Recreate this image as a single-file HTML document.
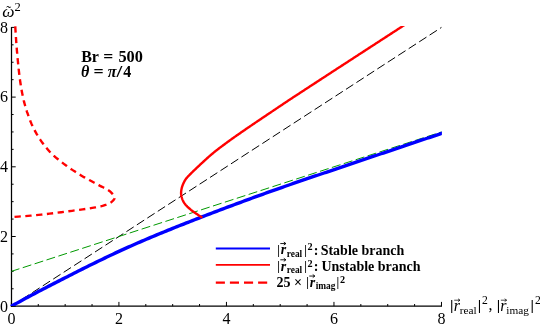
<!DOCTYPE html>
<html><head><meta charset="utf-8"><title>plot</title>
<style>
html,body{margin:0;padding:0;background:#fff;}
body{width:540px;height:328px;overflow:hidden;font-family:"Liberation Serif",serif;}
svg{display:block;will-change:transform;}
text{font-family:"Liberation Serif",serif;fill:#000;}
</style></head><body>
<svg width="540" height="328" viewBox="0 0 540 328">
<rect width="540" height="328" fill="#fff"/>
<defs><clipPath id="c"><rect x="10.5" y="26.0" width="431.40" height="279.90"/></clipPath></defs>
<g stroke="#000" stroke-width="1" fill="none">
<line x1="11.5" y1="26.90" x2="11.5" y2="306.82" stroke-width="1.25"/>
<line x1="10.88" y1="306.2" x2="441.98" y2="306.2" stroke-width="1.25"/>
<line x1="11.40" y1="306.2" x2="11.40" y2="301.90"/>
<line x1="11.4" y1="306.20" x2="15.70" y2="306.20"/>
<line x1="38.28" y1="306.2" x2="38.28" y2="304.00"/>
<line x1="11.4" y1="288.77" x2="13.60" y2="288.77"/>
<line x1="65.16" y1="306.2" x2="65.16" y2="304.00"/>
<line x1="11.4" y1="271.35" x2="13.60" y2="271.35"/>
<line x1="92.04" y1="306.2" x2="92.04" y2="304.00"/>
<line x1="11.4" y1="253.92" x2="13.60" y2="253.92"/>
<line x1="118.92" y1="306.2" x2="118.92" y2="301.90"/>
<line x1="11.4" y1="236.50" x2="15.70" y2="236.50"/>
<line x1="145.80" y1="306.2" x2="145.80" y2="304.00"/>
<line x1="11.4" y1="219.07" x2="13.60" y2="219.07"/>
<line x1="172.68" y1="306.2" x2="172.68" y2="304.00"/>
<line x1="11.4" y1="201.65" x2="13.60" y2="201.65"/>
<line x1="199.56" y1="306.2" x2="199.56" y2="304.00"/>
<line x1="11.4" y1="184.22" x2="13.60" y2="184.22"/>
<line x1="226.44" y1="306.2" x2="226.44" y2="301.90"/>
<line x1="11.4" y1="166.80" x2="15.70" y2="166.80"/>
<line x1="253.32" y1="306.2" x2="253.32" y2="304.00"/>
<line x1="11.4" y1="149.37" x2="13.60" y2="149.37"/>
<line x1="280.20" y1="306.2" x2="280.20" y2="304.00"/>
<line x1="11.4" y1="131.95" x2="13.60" y2="131.95"/>
<line x1="307.08" y1="306.2" x2="307.08" y2="304.00"/>
<line x1="11.4" y1="114.52" x2="13.60" y2="114.52"/>
<line x1="333.96" y1="306.2" x2="333.96" y2="301.90"/>
<line x1="11.4" y1="97.10" x2="15.70" y2="97.10"/>
<line x1="360.84" y1="306.2" x2="360.84" y2="304.00"/>
<line x1="11.4" y1="79.67" x2="13.60" y2="79.67"/>
<line x1="387.72" y1="306.2" x2="387.72" y2="304.00"/>
<line x1="11.4" y1="62.25" x2="13.60" y2="62.25"/>
<line x1="414.60" y1="306.2" x2="414.60" y2="304.00"/>
<line x1="11.4" y1="44.82" x2="13.60" y2="44.82"/>
<line x1="441.48" y1="306.2" x2="441.48" y2="301.90"/>
<line x1="11.4" y1="27.40" x2="15.70" y2="27.40"/>
</g>
<g clip-path="url(#c)" fill="none">
<path d="M11.40,306.20 L441.48,27.40" stroke="#000" stroke-width="1.0" stroke-dasharray="8.7 3.76"/>
<path d="M11.40,271.35 L441.48,131.95" stroke="#009900" stroke-width="1.0" stroke-dasharray="9 3.5" stroke-dashoffset="0.6"/>
<path d="M10.32,306.80 L12.52,305.57 L14.71,304.35 L16.91,303.13 L19.10,301.93 L21.29,300.73 L23.49,299.53 L25.68,298.34 L27.87,297.16 L30.07,295.99 L32.26,294.82 L34.45,293.65 L36.65,292.49 L38.84,291.34 L41.04,290.19 L43.23,289.04 L45.42,287.90 L47.62,286.76 L49.81,285.63 L52.00,284.50 L54.20,283.37 L56.39,282.24 L58.58,281.12 L60.78,280.00 L62.97,278.88 L65.17,277.76 L67.36,276.64 L69.55,275.53 L71.75,274.41 L73.94,273.30 L76.13,272.19 L78.33,271.09 L80.52,269.98 L82.71,268.88 L84.91,267.79 L87.10,266.69 L89.30,265.60 L91.49,264.52 L93.68,263.43 L95.88,262.36 L98.07,261.28 L100.26,260.22 L102.46,259.16 L104.65,258.10 L106.84,257.05 L109.04,256.00 L111.23,254.97 L113.43,253.93 L115.62,252.91 L117.81,251.89 L120.01,250.88 L122.20,249.88 L124.39,248.88 L126.59,247.89 L128.78,246.91 L130.97,245.94 L133.17,244.97 L135.36,244.01 L137.55,243.05 L139.75,242.10 L141.94,241.15 L144.14,240.21 L146.33,239.28 L148.52,238.35 L150.72,237.43 L152.91,236.51 L155.10,235.60 L157.30,234.69 L159.49,233.78 L161.68,232.88 L163.88,231.98 L166.07,231.09 L168.27,230.20 L170.46,229.31 L172.65,228.43 L174.85,227.54 L177.04,226.67 L179.23,225.79 L181.43,224.92 L183.62,224.05 L185.81,223.18 L188.01,222.32 L190.20,221.46 L192.40,220.60 L194.59,219.74 L196.78,218.89 L198.98,218.04 L201.17,217.19 L203.36,216.34 L205.56,215.50 L207.75,214.66 L209.94,213.82 L212.14,212.98 L214.33,212.15 L216.53,211.31 L218.72,210.48 L220.91,209.65 L223.11,208.83 L225.30,208.00 L227.49,207.18 L229.69,206.36 L231.88,205.54 L234.07,204.72 L236.27,203.91 L238.46,203.09 L240.66,202.28 L242.85,201.47 L245.04,200.67 L247.24,199.86 L249.43,199.06 L251.62,198.26 L253.82,197.46 L256.01,196.66 L258.20,195.87 L260.40,195.08 L262.59,194.29 L264.79,193.50 L266.98,192.72 L269.17,191.93 L271.37,191.15 L273.56,190.38 L275.75,189.60 L277.95,188.83 L280.14,188.06 L282.33,187.29 L284.53,186.52 L286.72,185.76 L288.92,185.00 L291.11,184.24 L293.30,183.48 L295.50,182.72 L297.69,181.97 L299.88,181.22 L302.08,180.46 L304.27,179.71 L306.46,178.96 L308.66,178.22 L310.85,177.47 L313.04,176.72 L315.24,175.98 L317.43,175.24 L319.63,174.49 L321.82,173.75 L324.01,173.01 L326.21,172.27 L328.40,171.53 L330.59,170.79 L332.79,170.05 L334.98,169.31 L337.17,168.57 L339.37,167.83 L341.56,167.09 L343.76,166.36 L345.95,165.62 L348.14,164.88 L350.34,164.14 L352.53,163.40 L354.72,162.66 L356.92,161.92 L359.11,161.18 L361.30,160.43 L363.50,159.69 L365.69,158.95 L367.89,158.21 L370.08,157.47 L372.27,156.73 L374.47,155.98 L376.66,155.24 L378.85,154.50 L381.05,153.76 L383.24,153.02 L385.43,152.27 L387.63,151.53 L389.82,150.79 L392.02,150.05 L394.21,149.31 L396.40,148.57 L398.60,147.83 L400.79,147.09 L402.98,146.35 L405.18,145.61 L407.37,144.87 L409.56,144.13 L411.76,143.40 L413.95,142.66 L416.15,141.92 L418.34,141.19 L420.53,140.45 L422.73,139.72 L424.92,138.99 L427.11,138.25 L429.31,137.52 L431.50,136.79 L433.69,136.06 L435.89,135.33 L438.08,134.61 L440.28,133.88 L442.47,133.15 L444.66,132.43 L446.86,131.71" stroke="#0000ff" stroke-width="3.4" stroke-linejoin="round"/>
<path d="M202.30,217.61 L201.25,216.96 L200.21,216.32 L199.20,215.67 L198.20,215.02 L197.23,214.37 L196.28,213.72 L195.34,213.08 L194.42,212.43 L193.51,211.78 L192.63,211.13 L191.78,210.49 L190.96,209.84 L190.18,209.19 L189.41,208.54 L188.67,207.89 L187.96,207.25 L187.28,206.60 L186.65,205.95 L186.07,205.30 L185.53,204.66 L185.02,204.01 L184.54,203.36 L184.10,202.71 L183.70,202.06 L183.33,201.42 L183.00,200.77 L182.71,200.12 L182.44,199.47 L182.21,198.82 L182.00,198.18 L181.81,197.53 L181.63,196.88 L181.47,196.23 L181.33,195.59 L181.22,194.94 L181.14,194.29 L181.10,193.64 L181.09,192.99 L181.11,192.35 L181.15,191.70 L181.22,191.05 L181.30,190.40 L181.40,189.76 L181.52,189.11 L181.65,188.46 L181.80,187.81 L181.98,187.16 L182.18,186.52 L182.40,185.87 L182.64,185.22 L182.89,184.57 L183.17,183.92 L183.47,183.28 L183.79,182.63 L184.11,181.98 L184.44,181.33 L184.79,180.69 L185.17,180.04 L185.58,179.39 L186.05,178.74 L186.57,178.09 L187.13,177.45 L187.72,176.80 L188.33,176.15 L188.96,175.50 L189.60,174.86 L190.24,174.21 L190.87,173.56 L191.52,172.91 L192.18,172.26 L192.84,171.62 L193.51,170.97 L194.18,170.32 L194.86,169.67 L195.54,169.03 L196.22,168.38 L196.91,167.73 L197.60,167.08 L198.29,166.43 L198.98,165.79 L199.67,165.14 L200.36,164.49 L201.05,163.84 L201.75,163.19 L202.45,162.55 L203.15,161.90 L203.85,161.25 L204.56,160.60 L205.27,159.96 L205.98,159.31 L206.69,158.66 L207.40,158.01 L208.13,157.36 L208.85,156.72 L209.59,156.07 L210.34,155.42 L211.11,154.77 L211.87,154.13 L212.64,153.48 L213.42,152.83 L214.21,152.18 L215.00,151.53 L215.81,150.89 L216.62,150.24 L217.45,149.59 L218.29,148.94 L219.14,148.30 L220.00,147.65 L220.86,147.00 L221.73,146.35 L222.60,145.70 L223.47,145.06 L224.35,144.41 L225.22,143.76 L226.10,143.11 L226.98,142.46 L227.86,141.82 L228.75,141.17 L229.64,140.52 L230.54,139.87 L231.44,139.23 L232.35,138.58 L233.27,137.93 L234.19,137.28 L235.11,136.63 L236.03,135.99 L236.96,135.34 L237.89,134.69 L238.82,134.04 L239.75,133.40 L240.68,132.75 L241.62,132.10 L242.56,131.45 L243.50,130.80 L244.44,130.16 L245.38,129.51 L246.32,128.86 L247.27,128.21 L248.21,127.57 L249.16,126.92 L250.11,126.27 L251.06,125.62 L252.02,124.97 L252.97,124.33 L253.93,123.68 L254.88,123.03 L255.84,122.38 L256.80,121.73 L257.76,121.09 L258.72,120.44 L259.68,119.79 L260.64,119.14 L261.61,118.50 L262.57,117.85 L263.54,117.20 L264.50,116.55 L265.47,115.90 L266.43,115.26 L267.40,114.61 L268.36,113.96 L269.33,113.31 L270.29,112.67 L271.26,112.02 L272.22,111.37 L273.19,110.72 L274.15,110.07 L275.11,109.43 L276.08,108.78 L277.04,108.13 L278.00,107.48 L278.96,106.84 L279.93,106.19 L280.89,105.54 L281.86,104.89 L282.82,104.24 L283.79,103.60 L284.76,102.95 L285.73,102.30 L286.70,101.65 L287.68,101.00 L288.66,100.36 L289.64,99.71 L290.62,99.06 L291.61,98.41 L292.59,97.77 L293.58,97.12 L294.57,96.47 L295.56,95.82 L296.55,95.17 L297.53,94.53 L298.52,93.88 L299.51,93.23 L300.50,92.58 L301.49,91.94 L302.48,91.29 L303.47,90.64 L304.47,89.99 L305.46,89.34 L306.45,88.70 L307.44,88.05 L308.43,87.40 L309.42,86.75 L310.42,86.11 L311.41,85.46 L312.40,84.81 L313.40,84.16 L314.39,83.51 L315.38,82.87 L316.38,82.22 L317.37,81.57 L318.36,80.92 L319.36,80.27 L320.35,79.63 L321.35,78.98 L322.34,78.33 L323.34,77.68 L324.33,77.04 L325.33,76.39 L326.32,75.74 L327.32,75.09 L328.32,74.44 L329.31,73.80 L330.31,73.15 L331.30,72.50 L332.30,71.85 L333.29,71.21 L334.29,70.56 L335.29,69.91 L336.28,69.26 L337.28,68.61 L338.28,67.97 L339.27,67.32 L340.27,66.67 L341.27,66.02 L342.26,65.38 L343.26,64.73 L344.26,64.08 L345.25,63.43 L346.25,62.78 L347.25,62.14 L348.24,61.49 L349.24,60.84 L350.24,60.19 L351.23,59.54 L352.23,58.90 L353.23,58.25 L354.23,57.60 L355.22,56.95 L356.22,56.31 L357.22,55.66 L358.22,55.01 L359.21,54.36 L360.21,53.71 L361.21,53.07 L362.20,52.42 L363.20,51.77 L364.20,51.12 L365.20,50.48 L366.19,49.83 L367.19,49.18 L368.19,48.53 L369.19,47.88 L370.18,47.24 L371.18,46.59 L372.18,45.94 L373.18,45.29 L374.17,44.65 L375.17,44.00 L376.17,43.35 L377.17,42.70 L378.16,42.05 L379.16,41.41 L380.16,40.76 L381.16,40.11 L382.16,39.46 L383.15,38.81 L384.15,38.17 L385.15,37.52 L386.15,36.87 L387.14,36.22 L388.14,35.58 L389.14,34.93 L390.14,34.28 L391.14,33.63 L392.13,32.98 L393.13,32.34 L394.13,31.69 L395.13,31.04 L396.12,30.39 L397.12,29.75 L398.12,29.10 L399.12,28.45 L400.12,27.80 L401.12,27.15 L402.11,26.51 L403.11,25.86 L404.11,25.21 L405.11,24.56 L406.11,23.91" stroke="#ff0000" stroke-width="2.4" stroke-linejoin="round"/>
<path d="M11.40,221.52 L18.26,221.02 L24.71,220.53 L30.70,220.04 L36.21,219.54 L41.19,219.05 L45.62,218.55 L49.66,218.06 L53.50,217.57 L57.34,217.07 L61.16,216.58 L64.88,216.08 L68.53,215.59 L72.12,215.10 L75.66,214.60 L79.20,214.11 L82.68,213.61 L86.05,213.12 L89.24,212.63 L92.28,212.13 L95.35,211.64 L98.23,211.14 L100.68,210.65 L102.52,210.16 L104.09,209.66 L105.54,209.17 L106.85,208.67 L108.03,208.18 L109.07,207.69 L109.97,207.19 L110.72,206.70 L111.33,206.20 L111.89,205.71 L112.42,205.22 L112.93,204.72 L113.39,204.23 L113.80,203.73 L114.14,203.24 L114.40,202.75 L114.56,202.25 L114.62,201.76 L114.58,201.26 L114.46,200.77 L114.26,200.28 L114.00,199.78 L113.68,199.29 L113.32,198.79 L112.91,198.30 L112.47,197.81 L112.01,197.31 L111.53,196.82 L111.04,196.32 L110.55,195.83 L110.04,195.34 L109.44,194.84 L108.75,194.35 L107.99,193.85 L107.17,193.36 L106.30,192.87 L105.38,192.37 L104.44,191.88 L103.48,191.38 L102.51,190.89 L101.54,190.40 L100.59,189.90 L99.67,189.41 L98.78,188.91 L97.91,188.42 L97.02,187.93 L96.13,187.43 L95.23,186.94 L94.33,186.44 L93.42,185.95 L92.50,185.46 L91.59,184.96 L90.68,184.47 L89.77,183.97 L88.86,183.48 L87.96,182.98 L87.06,182.49 L86.18,182.00 L85.30,181.50 L84.44,181.01 L83.59,180.51 L82.76,180.02 L81.95,179.53 L81.14,179.03 L80.35,178.54 L79.56,178.04 L78.77,177.55 L77.99,177.06 L77.21,176.56 L76.45,176.07 L75.68,175.57 L74.93,175.08 L74.18,174.59 L73.44,174.09 L72.70,173.60 L71.97,173.10 L71.25,172.61 L70.54,172.12 L69.83,171.62 L69.13,171.13 L68.44,170.63 L67.76,170.14 L67.09,169.65 L66.43,169.15 L65.77,168.66 L65.13,168.16 L64.48,167.67 L63.84,167.18 L63.21,166.68 L62.57,166.19 L61.94,165.69 L61.31,165.20 L60.69,164.71 L60.07,164.21 L59.46,163.72 L58.85,163.22 L58.25,162.73 L57.66,162.24 L57.07,161.74 L56.49,161.25 L55.91,160.75 L55.35,160.26 L54.79,159.77 L54.24,159.27 L53.70,158.78 L53.17,158.28 L52.64,157.79 L52.13,157.30 L51.63,156.80 L51.14,156.31 L50.66,155.81 L50.19,155.32 L49.74,154.83 L49.29,154.33 L48.85,153.84 L48.42,153.34 L47.99,152.85 L47.57,152.36 L47.15,151.86 L46.74,151.37 L46.33,150.87 L45.94,150.38 L45.54,149.89 L45.15,149.39 L44.77,148.90 L44.39,148.40 L44.02,147.91 L43.65,147.42 L43.29,146.92 L42.94,146.43 L42.58,145.93 L42.23,145.44 L41.89,144.95 L41.55,144.45 L41.22,143.96 L40.89,143.46 L40.56,142.97 L40.24,142.47 L39.92,141.98 L39.60,141.49 L39.29,140.99 L38.98,140.50 L38.68,140.00 L38.38,139.51 L38.08,139.02 L37.78,138.52 L37.48,138.03 L37.19,137.53 L36.90,137.04 L36.61,136.55 L36.33,136.05 L36.05,135.56 L35.77,135.06 L35.49,134.57 L35.22,134.08 L34.95,133.58 L34.68,133.09 L34.42,132.59 L34.17,132.10 L33.91,131.61 L33.66,131.11 L33.42,130.62 L33.17,130.12 L32.94,129.63 L32.70,129.14 L32.48,128.64 L32.25,128.15 L32.03,127.65 L31.82,127.16 L31.61,126.67 L31.41,126.17 L31.21,125.68 L31.01,125.18 L30.82,124.69 L30.62,124.20 L30.43,123.70 L30.24,123.21 L30.05,122.71 L29.87,122.22 L29.68,121.73 L29.50,121.23 L29.32,120.74 L29.13,120.24 L28.95,119.75 L28.78,119.26 L28.60,118.76 L28.43,118.27 L28.25,117.77 L28.08,117.28 L27.91,116.79 L27.74,116.29 L27.58,115.80 L27.41,115.30 L27.25,114.81 L27.08,114.32 L26.92,113.82 L26.77,113.33 L26.61,112.83 L26.45,112.34 L26.30,111.85 L26.15,111.35 L26.00,110.86 L25.85,110.36 L25.71,109.87 L25.56,109.38 L25.42,108.88 L25.28,108.39 L25.14,107.89 L25.00,107.40 L24.87,106.91 L24.73,106.41 L24.60,105.92 L24.47,105.42 L24.34,104.93 L24.22,104.44 L24.09,103.94 L23.97,103.45 L23.85,102.95 L23.73,102.46 L23.62,101.96 L23.50,101.47 L23.39,100.98 L23.28,100.48 L23.17,99.99 L23.06,99.49 L22.96,99.00 L22.86,98.51 L22.76,98.01 L22.66,97.52 L22.56,97.02 L22.46,96.53 L22.36,96.04 L22.27,95.54 L22.18,95.05 L22.08,94.55 L21.99,94.06 L21.90,93.57 L21.81,93.07 L21.72,92.58 L21.63,92.08 L21.55,91.59 L21.46,91.10 L21.37,90.60 L21.29,90.11 L21.21,89.61 L21.13,89.12 L21.05,88.63 L20.97,88.13 L20.89,87.64 L20.81,87.14 L20.73,86.65 L20.66,86.16 L20.58,85.66 L20.51,85.17 L20.43,84.67 L20.36,84.18 L20.29,83.69 L20.22,83.19 L20.15,82.70 L20.08,82.20 L20.01,81.71 L19.95,81.22 L19.88,80.72 L19.81,80.23 L19.75,79.73 L19.69,79.24 L19.62,78.75 L19.56,78.25 L19.50,77.76 L19.44,77.26 L19.38,76.77 L19.33,76.28 L19.27,75.78 L19.21,75.29 L19.15,74.79 L19.10,74.30 L19.05,73.81 L18.99,73.31 L18.94,72.82 L18.88,72.32 L18.83,71.83 L18.78,71.34 L18.73,70.84 L18.67,70.35 L18.62,69.85 L18.57,69.36 L18.52,68.87 L18.47,68.37 L18.42,67.88 L18.37,67.38 L18.32,66.89 L18.27,66.40 L18.22,65.90 L18.17,65.41 L18.12,64.91 L18.07,64.42 L18.02,63.93 L17.98,63.43 L17.93,62.94 L17.88,62.44 L17.83,61.95 L17.79,61.45 L17.74,60.96 L17.70,60.47 L17.65,59.97 L17.60,59.48 L17.56,58.98 L17.52,58.49 L17.47,58.00 L17.43,57.50 L17.38,57.01 L17.34,56.51 L17.30,56.02 L17.25,55.53 L17.21,55.03 L17.17,54.54 L17.13,54.04 L17.08,53.55 L17.04,53.06 L17.00,52.56 L16.96,52.07 L16.92,51.57 L16.88,51.08 L16.84,50.59 L16.80,50.09 L16.76,49.60 L16.72,49.10 L16.68,48.61 L16.65,48.12 L16.61,47.62 L16.57,47.13 L16.53,46.63 L16.49,46.14 L16.46,45.65 L16.42,45.15 L16.38,44.66 L16.35,44.16 L16.31,43.67 L16.28,43.18 L16.24,42.68 L16.21,42.19 L16.17,41.69 L16.14,41.20 L16.10,40.71 L16.07,40.21 L16.04,39.72 L16.00,39.22 L15.97,38.73 L15.94,38.24 L15.91,37.74 L15.87,37.25 L15.84,36.75 L15.81,36.26 L15.78,35.77 L15.75,35.27 L15.72,34.78 L15.69,34.28 L15.66,33.79 L15.63,33.30 L15.60,32.80 L15.57,32.31 L15.54,31.81 L15.51,31.32 L15.48,30.83 L15.46,30.33 L15.43,29.84 L15.40,29.34 L15.37,28.85 L15.35,28.36 L15.32,27.86 L15.29,27.37 L15.27,26.87 L15.25,26.38 L15.23,25.89 L15.20,25.39 L15.18,24.90 L15.16,24.40" transform="scale(1,0.98)" stroke="#ff0000" stroke-width="2.4" stroke-dasharray="6.3 4.53" stroke-dashoffset="7.7" stroke-linejoin="round"/>
</g>
<g><text x="11.40" y="324.00" font-size="16" text-anchor="middle">0</text><text x="118.92" y="324.00" font-size="16" text-anchor="middle">2</text><text x="226.44" y="324.00" font-size="16" text-anchor="middle">4</text><text x="333.96" y="324.00" font-size="16" text-anchor="middle">6</text><text x="441.48" y="324.00" font-size="16" text-anchor="middle">8</text><text x="8.10" y="311.55" font-size="16" text-anchor="end">0</text><text x="8.10" y="241.85" font-size="16" text-anchor="end">2</text><text x="8.10" y="172.15" font-size="16" text-anchor="end">4</text><text x="8.10" y="102.45" font-size="16" text-anchor="end">6</text><text x="8.10" y="32.75" font-size="16" text-anchor="end">8</text></g>
<g><text transform="translate(2.30,17.10) scale(1.12,1.06)" font-size="15.5" font-style="italic">ω</text><text x="6.30" y="16.30" font-size="15">˜</text><text x="14.50" y="10.80" font-size="12.5">2</text></g>
<g><text x="81.20" y="61.50" font-size="16" font-weight="bold">Br</text><text transform="translate(103.27,61.50) scale(1.1,1)" font-size="16" font-weight="bold">=</text><text x="118.46" y="61.50" font-size="16.3" font-weight="bold">500</text><text x="80.95" y="76.50" font-size="16" font-weight="bold" font-style="italic">θ</text><text transform="translate(93.40,76.50) scale(1.12,1)" font-size="16" font-weight="bold">=</text><text x="107.70" y="76.50" font-size="16" font-weight="bold" font-style="italic">π</text><text transform="translate(116.50,76.50) scale(1.3,1)" font-size="16" font-weight="bold">/</text><text x="123.15" y="76.50" font-size="16" font-weight="bold">4</text></g>
<g fill="none">
<line x1="215.8" y1="248.5" x2="270" y2="248.5" stroke="#0000ff" stroke-width="1.8"/>
<line x1="215.8" y1="264.8" x2="270" y2="264.8" stroke="#ff0000" stroke-width="1.8"/>
<line x1="215.8" y1="282.6" x2="270" y2="282.6" stroke="#ff0000" stroke-width="2.1" stroke-dasharray="9.1 5"/>
</g>
<g><text x="277.31" y="253.70" font-size="12.2" font-weight="bold">|</text><text x="280.70" y="254.30" font-size="14" font-weight="bold" font-style="italic">r</text><path d="M280.30,243.55 H285.90 M283.80,242.05 L285.90,243.55 L283.80,245.05" fill="none" stroke="#000" stroke-width="0.9"/><text x="286.75" y="256.70" font-size="9.4" font-weight="bold">real</text><text x="304.16" y="253.70" font-size="12.2" font-weight="bold">|</text><text x="307.60" y="250.30" font-size="10.2" font-weight="bold">2</text><text x="313.65" y="254.50" font-size="14" font-weight="bold">:</text><text x="320.66" y="254.50" font-size="14" font-weight="bold">Stable branch</text><text x="277.31" y="269.95" font-size="12.2" font-weight="bold">|</text><text x="280.70" y="270.55" font-size="14" font-weight="bold" font-style="italic">r</text><path d="M280.30,259.80 H285.90 M283.80,258.30 L285.90,259.80 L283.80,261.30" fill="none" stroke="#000" stroke-width="0.9"/><text x="286.75" y="272.95" font-size="9.4" font-weight="bold">real</text><text x="304.16" y="269.95" font-size="12.2" font-weight="bold">|</text><text x="307.60" y="266.55" font-size="10.2" font-weight="bold">2</text><text x="313.65" y="270.75" font-size="14" font-weight="bold">:</text><text x="321.40" y="270.75" font-size="14" font-weight="bold">Unstable branch</text><text x="276.60" y="287.00" font-size="14" font-weight="bold">25</text><text x="293.96" y="287.00" font-size="14" font-weight="bold">×</text><text x="306.26" y="286.20" font-size="12.2" font-weight="bold">|</text><text x="309.65" y="286.80" font-size="14" font-weight="bold" font-style="italic">r</text><path d="M309.25,276.05 H314.85 M312.75,274.55 L314.85,276.05 L312.75,277.55" fill="none" stroke="#000" stroke-width="0.9"/><text x="315.70" y="289.20" font-size="9.4" font-weight="bold">imag</text><text x="336.56" y="286.20" font-size="12.2" font-weight="bold">|</text><text x="340.00" y="282.80" font-size="10.2" font-weight="bold">2</text></g>
<g><text x="450.03" y="310.00" font-size="15.6" font-weight="bold">|</text><text x="453.65" y="310.50" font-size="16" font-style="italic">r</text><path d="M454.20,300.20 H460.00 M458.00,298.80 L460.00,300.20 L458.00,301.60" fill="none" stroke="#000" stroke-width="0.7"/><text x="459.67" y="313.50" font-size="11.3">real</text><text x="477.68" y="310.00" font-size="15.6" font-weight="bold">|</text><text x="482.00" y="304.30" font-size="11.6">2</text><text x="488.40" y="309.80" font-size="16">,</text><text x="496.68" y="310.00" font-size="15.6" font-weight="bold">|</text><text x="500.30" y="310.50" font-size="16" font-style="italic">r</text><path d="M500.85,300.20 H506.65 M504.65,298.80 L506.65,300.20 L504.65,301.60" fill="none" stroke="#000" stroke-width="0.7"/><text x="506.32" y="313.50" font-size="11.3">imag</text><text x="530.58" y="310.00" font-size="15.6" font-weight="bold">|</text><text x="534.90" y="304.30" font-size="11.6">2</text></g>
</svg>
</body></html>
